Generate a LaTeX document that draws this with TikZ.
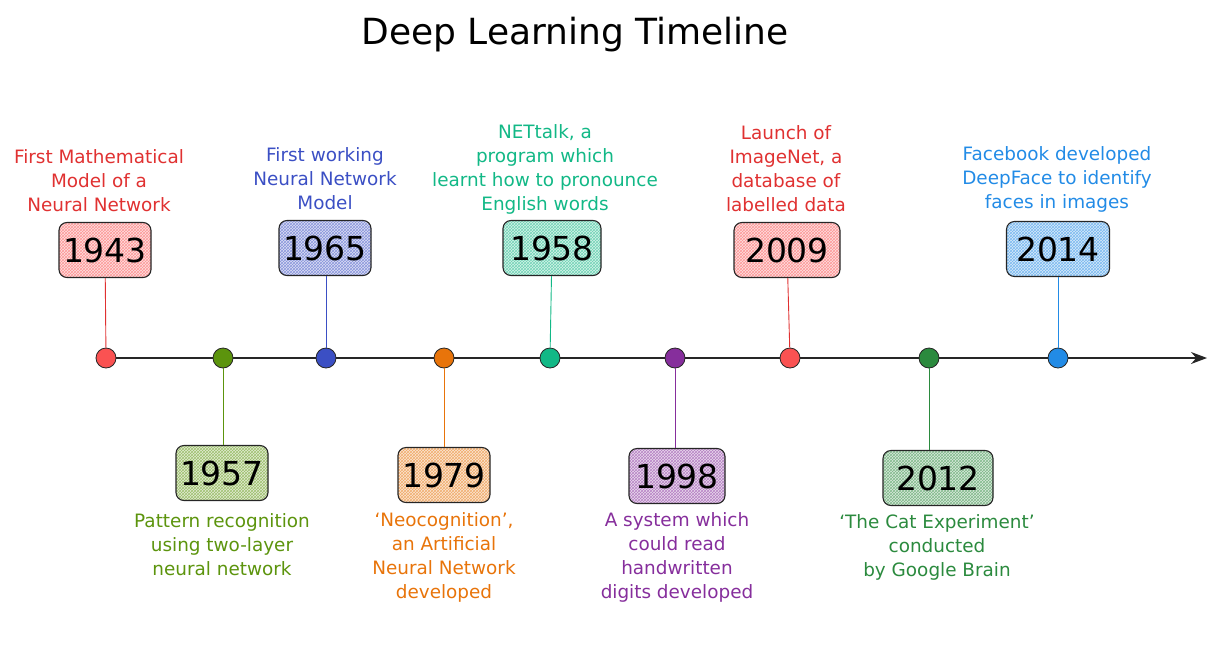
\documentclass[tikz,border=0pt]{standalone}
\usepackage{fontspec}
\setmainfont{DejaVu Sans}
\usetikzlibrary{arrows.meta,patterns}
\definecolor{tred}{HTML}{E03131}
\definecolor{dred}{HTML}{FA5252}
\definecolor{tlime}{HTML}{5C940D}
\definecolor{tblue}{HTML}{3B4FC4}
\definecolor{torange}{HTML}{E8740A}
\definecolor{tteal}{HTML}{12B886}
\definecolor{tpurple}{HTML}{862E9C}
\definecolor{tgreen}{HTML}{2B8A3E}
\definecolor{tsky}{HTML}{228BE6}
\tikzset{
  dot/.style={circle, draw=black!85, line width=0.8pt, fill=#1, minimum size=20pt, inner sep=0pt},
  yearbox/.style={draw=black!85, rounded corners=8pt, minimum width=92pt, minimum height=55pt,
    line width=1.1pt, preaction={fill=#1!18}, pattern=crosshatch, pattern color=#1!60,
    font=\fontsize{33}{33}\selectfont, text=black, inner sep=0pt},
  desc/.style={align=center, text=#1, font=\fontsize{18.4}{24}\selectfont},
  conn/.style={draw=#1, line width=0.9pt},
  axis/.style={draw=black!85, line width=1.2pt, -{Stealth[length=16pt,width=12pt]}}
}
\begin{document}
\begin{tikzpicture}[x=1pt,y=-1pt]
\useasboundingbox (0,0) rectangle (1216,662);
\node[font=\fontsize{36}{36}\selectfont] (title) at (575,35) {Deep Learning Timeline};
\coordinate (start) at (106,358);
\coordinate (end) at (1207,358);
\draw[axis] (start) -- (end);
% dots
\node[dot=dred] (d1) at (106,358) {};
\node[dot=tlime] (d2) at (223,358) {};
\node[dot=tblue] (d3) at (326,358) {};
\node[dot=torange] (d4) at (444,358) {};
\node[dot=tteal] (d5) at (550,358) {};
\node[dot=tpurple] (d6) at (675,358) {};
\node[dot=dred] (d7) at (790,358) {};
\node[dot=tgreen] (d8) at (929,358) {};
\node[dot=tsky] (d9) at (1058,358) {};
% year boxes
\node[yearbox=dred] (y1) at (105,250) {1943};
\node[yearbox=tlime] (y2) at (222,473) {1957};
\node[yearbox=tblue] (y3) at (325,248) {1965};
\node[yearbox=torange] (y4) at (444,475) {1979};
\node[yearbox=tteal, minimum width=98pt] (y5) at (552,248) {1958};
\node[yearbox=tpurple, minimum width=96pt] (y6) at (677,476) {1998};
\node[yearbox=dred, minimum width=106pt] (y7) at (787,250) {2009};
\node[yearbox=tgreen, minimum width=110pt] (y8) at (938,478) {2012};
\node[yearbox=tsky, minimum width=103pt] (y9) at (1058,249) {2014};
% connectors
\draw[conn=tred] (d1) -- (y1);
\draw[conn=tlime] (d2) -- (d2 |- y2.north);
\draw[conn=tblue] (d3) -- (d3 |- y3.south);
\draw[conn=torange] (d4) -- (y4);
\draw[conn=tteal] (d5) -- (y5);
\draw[conn=tpurple] (d6) -- (d6 |- y6.north);
\draw[conn=tred] (d7) -- (y7);
\draw[conn=tgreen] (d8) -- (d8 |- y8.north);
\draw[conn=tsky] (d9) -- (y9);
% descriptions
\node[desc=tred] (t1) at (99,181) {First Mathematical\\Model of a\\Neural Network};
\node[desc=tlime] (t2) at (222,545) {Pattern recognition\\using two-layer\\neural network};
\node[desc=tblue] (t3) at (325,179) {First working\\Neural Network\\Model};
\node[desc=torange] (t4) at (444,557) {‘Neocognition’,\\an Artificial\\Neural Network\\developed};
\node[desc=tteal] (t5) at (545,169) {NETtalk, a\\program which\\learnt how to pronounce\\English words};
\node[desc=tpurple] (t6) at (677,557) {A system which\\could read\\handwritten\\digits developed};
\node[desc=tred] (t7) at (786,169) {Launch of\\ImageNet, a\\database of\\labelled data};
\node[desc=tgreen] (t8) at (937,547) {‘The Cat Experiment’\\conducted\\by Google Brain};
\node[desc=tsky] (t9) at (1057,179) {Facebook developed\\DeepFace to identify\\faces in images};
\end{tikzpicture}
\end{document}
